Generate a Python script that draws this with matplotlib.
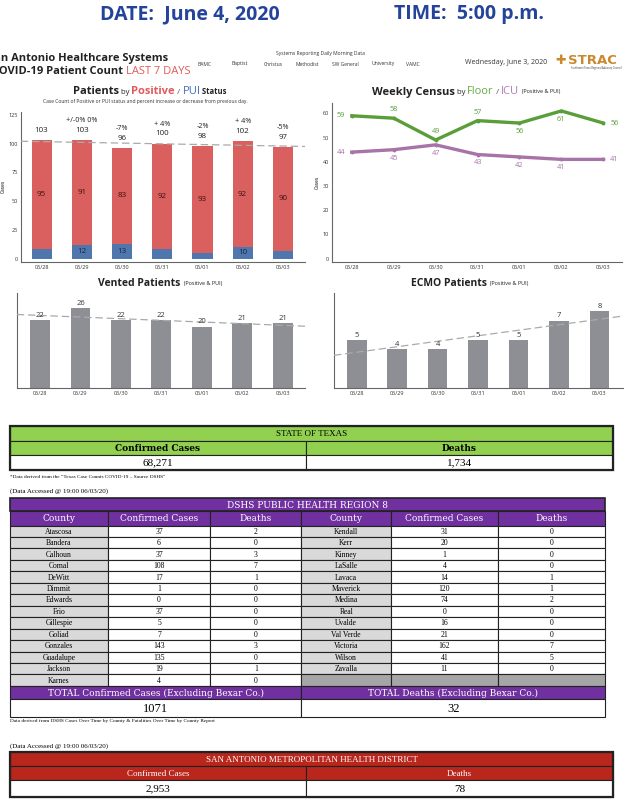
import numpy as np
import matplotlib
matplotlib.use('Agg')
import matplotlib.pyplot as plt
from matplotlib.patches import Rectangle

# chart data
days = ['05/28', '05/29', '05/30', '05/31', '06/01', '06/02', '06/03']
positive = [95, 91, 83, 92, 93, 92, 90]
pui = [8, 12, 13, 8, 5, 10, 7]
pct_change = ['', '+/-0% 0%', '-7%', '+ 4%', '-2%', '+ 4%', '-5%']
floor = [59, 58, 49, 57, 56, 61, 56]
icu = [44, 45, 47, 43, 42, 41, 41]
vented = [22, 26, 22, 22, 20, 21, 21]
ecmo = [5, 4, 4, 5, 5, 7, 8]
hospitals = ['BAMC', 'Baptist', 'Christus', 'Methodist', 'SW General', 'University', 'VAMC']

# table data
texas_cases = '68,271'
texas_deaths = '1,734'
counties_left = ['Atascosa', 'Bandera', 'Calhoun', 'Comal', 'DeWitt', 'Dimmit', 'Edwards',
                 'Frio', 'Gillespie', 'Goliad', 'Gonzales', 'Guadalupe', 'Jackson', 'Karnes']
cases_left = [37, 6, 37, 108, 17, 1, 0, 37, 5, 7, 143, 135, 19, 4]
deaths_left = [2, 0, 3, 7, 1, 0, 0, 0, 0, 0, 3, 0, 1, 0]
counties_right = ['Kendall', 'Kerr', 'Kinney', 'LaSalle', 'Lavaca', 'Maverick', 'Medina',
                  'Real', 'Uvalde', 'Val Verde', 'Victoria', 'Wilson', 'Zavalla']
cases_right = [31, 20, 1, 4, 14, 120, 74, 0, 16, 21, 162, 41, 11]
deaths_right = [0, 0, 0, 0, 1, 1, 2, 0, 0, 0, 7, 5, 0]
region_cases = '1071'
region_deaths = '32'
samhd_cases = '2,953'
samhd_deaths = '78'

SANS = ['Open Sans', 'DejaVu Sans']
SERIF = ['Liberation Serif', 'DejaVu Serif']
SLAB = ['DejaVu Serif']
plt.rcParams['font.family'] = SANS

W, H = 644, 800
fig = plt.figure(figsize=(W / 100, H / 100), dpi=100)
bg = fig.add_axes([0, 0, 1, 1])
bg.set_xlim(0, W)
bg.set_ylim(H, 0)
bg.axis('off')
R = fig.canvas.get_renderer()


def px_axes(l, t, r, b):
    # pixel box -> figure axes
    ax = fig.add_axes([l / W, 1 - b / H, (r - l) / W, (b - t) / H])
    ax.patch.set_alpha(0)
    return ax


def rich(x, y, parts, ha='center', family=SANS):
    objs, widths = [], []
    for s, size, color, weight in parts:
        t = bg.text(0, y, s, fontsize=size, color=color, fontweight=weight,
                    va='center', ha='left', family=family)
        objs.append(t)
        widths.append(t.get_window_extent(R).width)
    x0 = x - sum(widths) / 2 if ha == 'center' else x
    for t, w in zip(objs, widths):
        t.set_x(x0)
        x0 += w


def style_axes(ax, yticks=True):
    for s in ['top', 'right']:
        ax.spines[s].set_visible(False)
    for s in ['left', 'bottom']:
        ax.spines[s].set_color('#666666')
        ax.spines[s].set_linewidth(0.8)
    ax.tick_params(length=0, labelsize=4, colors='#333333', pad=2)
    if not yticks:
        ax.set_yticks([])


# ---------- header ----------
blue_hdr = '#24439a'
bg.text(190, 14, 'DATE:  June 4, 2020', fontsize=14, fontweight='bold', color=blue_hdr,
        ha='center', va='center')
bg.text(469, 14, 'TIME:  5:00 p.m.', fontsize=14, fontweight='bold', color=blue_hdr,
        ha='center', va='center')
bg.text(-12, 58, 'San Antonio Healthcare Systems', fontsize=8, fontweight='bold',
        color='#222222', ha='left', va='center')
rich(-8, 71, [('COVID-19 Patient Count ', 8, '#222222', 'bold'),
              ('LAST 7 DAYS', 8, '#e05a5a', 'normal')], ha='left')
bg.text(320, 53, 'Systems Reporting Daily Morning Data', fontsize=3.6, color='#333333',
        ha='center', va='center')
hx = [205, 240, 273, 307, 345, 383, 413]
for x, h in zip(hx, hospitals):
    bg.text(x, 64, h, fontsize=3.6, color='#333333', ha='center', va='center')
bg.text(506, 63, 'Wednesday, June 3, 2020', fontsize=5, color='#333333',
        ha='center', va='center')
bg.text(561, 61, '\u271a', fontsize=9, color='#c98a2e', ha='center', va='center',
        family=['DejaVu Sans'])
bg.text(568, 60, 'STRAC', fontsize=9.5, fontweight='bold', color='#c98a2e', ha='left',
        va='center', family=['DejaVu Sans'])
bg.text(596, 68.5, 'Southwest Texas Regional Advisory Council', fontsize=1.8,
        color='#333333', ha='center', va='center')

# ---------- chart 1: patients by positive / PUI ----------
rich(150, 92, [('Patients', 8, '#222222', 'bold'), (' by ', 5.5, '#222222', 'normal'),
               ('Positive', 8, '#e05a5a', 'bold'), (' / ', 6, '#555555', 'normal'),
               ('PUI', 8, '#3f6fb5', 'normal'), (' Status', 5.5, '#222222', 'bold')])
bg.text(145, 102, 'Case Count of Positive or PUI status and percent increase or decrease from previous day.',
        fontsize=3.6, color='#333333', ha='center', va='center')
ax1 = px_axes(20.7, 111.5, 305, 262)
x = np.arange(len(days))
total = np.array(positive) + np.array(pui)
ax1.bar(x, pui, width=0.5, color='#4f77ad')
ax1.bar(x, positive, bottom=pui, width=0.5, color='#d9605e')
ax1.set_xlim(-0.52, 6.55)
ax1.set_ylim(-3, 128)
ax1.set_yticks([0, 25, 50, 75, 100, 125])
ax1.set_xticks(x)
ax1.set_xticklabels(days)
style_axes(ax1)
ax1.set_ylabel('Cases', fontsize=3.5, labelpad=2)
c = np.polyfit(x, total, 1)
xl = np.array([-0.52, 6.55])
ax1.plot(xl, np.polyval(c, xl), ls=(0, (6, 3)), color='#aaaaaa', lw=0.9, zorder=3)
for i in range(len(days)):
    ax1.text(i, pui[i] + positive[i] / 2, str(positive[i]), fontsize=5.8, color='#3a1010',
             ha='center', va='center')
    if pui[i] >= 10:
        ax1.text(i, pui[i] / 2, str(pui[i]), fontsize=5.8, color='#1a2540',
                 ha='center', va='center')
    ax1.text(i, total[i] + 8.5, str(total[i]), fontsize=5.8, color='#222222',
             ha='center', va='center')
    ax1.text(i, total[i] + 17, pct_change[i], fontsize=5.2, color='#222222',
             ha='center', va='center')

# ---------- chart 2: weekly census ----------
rich(466, 92, [('Weekly Census', 8, '#222222', 'bold'), (' by ', 5.5, '#222222', 'normal'),
               ('Floor', 8, '#6aaa44', 'normal'), (' / ', 6, '#555555', 'normal'),
               ('ICU', 8, '#b47bb4', 'normal'), ('  (Positive & PUI)', 4, '#222222', 'normal')])
ax2 = px_axes(331.7, 102.7, 621.7, 262.3)
green, purple = '#5a9e3a', '#a873a8'
ax2.plot(x, floor, color=green, lw=2.4, marker='o', ms=1.8)
ax2.plot(x, icu, color=purple, lw=2.4, marker='o', ms=1.8)
ax2.set_xlim(-0.48, 6.44)
ax2.set_ylim(-1.5, 64.4)
ax2.set_yticks(range(0, 70, 10))
ax2.set_xticks(x)
ax2.set_xticklabels(days)
style_axes(ax2)
ax2.set_ylabel('Cases', fontsize=3.5, labelpad=2)
floor_off = [(-8, 0), (0, 6), (0, 6), (0, 6), (0, -6), (0, -6), (8, 0)]
icu_off = [(-8, 0), (0, -6), (0, -6), (0, -6), (0, -6), (0, -6), (8, 0)]
for i in range(len(days)):
    ax2.annotate(str(floor[i]), (i, floor[i]), xytext=floor_off[i], textcoords='offset points',
                 fontsize=5.3, color=green, ha='center', va='center')
    ax2.annotate(str(icu[i]), (i, icu[i]), xytext=icu_off[i], textcoords='offset points',
                 fontsize=5.3, color=purple, ha='center', va='center')

# ---------- chart 3 & 4: vented / ECMO ----------
rich(160, 284, [('Vented Patients', 7.5, '#222222', 'bold'),
                ('  (Positive & PUI)', 4, '#222222', 'normal')])
rich(470, 284, [('ECMO Patients', 7.5, '#222222', 'bold'),
                ('  (Positive & PUI)', 4, '#222222', 'normal')])
for vals, box, lim, top in [(vented, (16.7, 292.7, 305, 388), (-0.576, 6.55), 31),
                            (ecmo, (334, 292.7, 623.3, 388), (-0.56, 6.59), 9.9)]:
    ax = px_axes(*box)
    ax.bar(x, vals, width=0.49, color='#8e8f94')
    ax.set_xlim(*lim)
    ax.set_ylim(0, top)
    ax.set_xticks(x)
    ax.set_xticklabels(days)
    style_axes(ax, yticks=False)
    c = np.polyfit(x, vals, 1)
    xl = np.array(lim)
    ax.plot(xl, np.polyval(c, xl), ls=(0, (6, 3)), color='#aaaaaa', lw=0.9, zorder=3)
    for i, v in enumerate(vals):
        ax.text(i, v + top * 0.05, str(v), fontsize=5.5, color='#333333',
                ha='center', va='center')


# ---------- tables ----------
def cell(x0, y0, x1, y1, fc, text='', tc='black', size=6, weight='normal', family=SERIF,
         lw=0.8):
    bg.add_patch(Rectangle((x0, y0), x1 - x0, y1 - y0, facecolor=fc, edgecolor='#222222',
                           lw=lw))
    if text != '':
        bg.text((x0 + x1) / 2, (y0 + y1) / 2 + 0.5, text, fontsize=size, color=tc,
                fontweight=weight, ha='center', va='center', family=family)


L, RT, MID = 10, 613, 306
# state of texas
green_t = '#92d050'
cell(L, 426, RT, 440.5, green_t, 'STATE OF TEXAS', size=6.5)
cell(L, 440.5, MID, 455, green_t, 'Confirmed Cases', size=6.5, weight='bold', family=SLAB)
cell(MID, 440.5, RT, 455, green_t, 'Deaths', size=6.5, weight='bold', family=SLAB)
cell(L, 455, MID, 470, 'white', texas_cases, size=8)
cell(MID, 455, RT, 470, 'white', texas_deaths, size=8)
bg.add_patch(Rectangle((L, 426), RT - L, 44, fill=False, edgecolor='#222222', lw=1.6))
bg.text(L, 477, '*Data derived from the \u201cTexas Case Counts COVID-19 \u2013 Source DSHS\u201d',
        fontsize=3.8, family=SERIF, ha='left', va='center')
bg.text(L, 491, '(Data Accessed @ 19:00 06/03/20)', fontsize=5, family=SERIF, ha='left',
        va='center')

# DSHS region 8
purple_t = '#7030a0'
cols = [10, 108, 210, 301.5, 391, 498, 605]
top_t = 498
cell(cols[0], top_t, cols[6], top_t + 13, purple_t, 'DSHS PUBLIC HEALTH REGION 8',
     tc='white', size=6.5, family=SLAB, lw=1.2)
hdr = ['County', 'Confirmed Cases', 'Deaths'] * 2
for j in range(6):
    cell(cols[j], top_t + 13, cols[j + 1], top_t + 27.5, purple_t, hdr[j], tc='white',
         size=6.5, family=SLAB)
rh = 11.46
y0 = top_t + 27.5
for i in range(14):
    ya, yb = y0 + i * rh, y0 + (i + 1) * rh
    cell(cols[0], ya, cols[1], yb, '#d9d9d9', counties_left[i], size=5.5)
    cell(cols[1], ya, cols[2], yb, 'white', str(cases_left[i]), size=5.5)
    cell(cols[2], ya, cols[3], yb, 'white', str(deaths_left[i]), size=5.5)
    if i < len(counties_right):
        cell(cols[3], ya, cols[4], yb, '#d9d9d9', counties_right[i], size=5.5)
        cell(cols[4], ya, cols[5], yb, 'white', str(cases_right[i]), size=5.5)
        cell(cols[5], ya, cols[6], yb, 'white', str(deaths_right[i]), size=5.5)
    else:
        for j in range(3, 6):
            cell(cols[j], ya, cols[j + 1], yb, '#a6a6a6')
yt = y0 + 14 * rh
cell(cols[0], yt, cols[3], yt + 13.5, purple_t, 'TOTAL Confirmed Cases (Excluding Bexar Co.)',
     tc='white', size=6.5, family=SLAB)
cell(cols[3], yt, cols[6], yt + 13.5, purple_t, 'TOTAL Deaths (Excluding Bexar Co.)',
     tc='white', size=6.5, family=SLAB)
cell(cols[0], yt + 13.5, cols[3], yt + 31, 'white', region_cases, size=9)
cell(cols[3], yt + 13.5, cols[6], yt + 31, 'white', region_deaths, size=9)
bg.text(L, yt + 35.5, 'Data derived from DSHS Cases Over Time by County & Fatalities Over Time by County Report',
        fontsize=3.8, family=SERIF, ha='left', va='center')

# SAMHD
bg.text(L, 746, '(Data Accessed @ 19:00 06/03/20)', fontsize=5, family=SERIF, ha='left',
        va='center')
red_t = '#b8261c'
cell(L, 752, RT, 766, red_t, 'SAN ANTONIO METROPOLITAN HEALTH DISTRICT', tc='white', size=6.5)
cell(L, 766, MID, 780, red_t, 'Confirmed Cases', tc='white', size=6.5)
cell(MID, 766, RT, 780, red_t, 'Deaths', tc='white', size=6.5)
cell(L, 780, MID, 797, 'white', samhd_cases, size=8)
cell(MID, 780, RT, 797, 'white', samhd_deaths, size=8)
bg.add_patch(Rectangle((L, 752), RT - L, 45, fill=False, edgecolor='#222222', lw=1.6))
bg.text(L, 801.5, '*Data derived from the \u201cCase Counts COVID-19 Daily SAMHD\u201d',
        fontsize=3.8, family=SERIF, ha='left', va='center')

fig.savefig('out.png', dpi=100)
